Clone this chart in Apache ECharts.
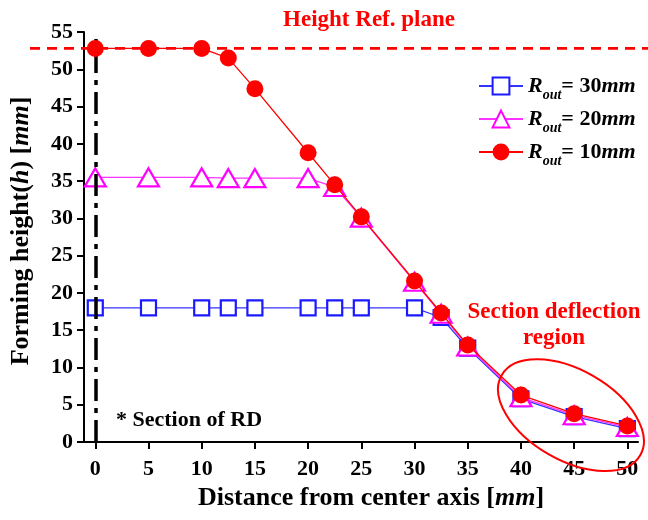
<!DOCTYPE html>
<html>
<head>
<meta charset="utf-8">
<script src="https://cdn.jsdelivr.net/npm/echarts@6/dist/echarts.min.js"></script>
<style>
  html, body { margin: 0; padding: 0; background: #fff; }
  #chart { width: 648px; height: 520px; }
</style>
</head>
<body>
<div id="chart"></div>
<script>
// Radial distance from the centre axis [mm]
const distance = [0, 5, 10, 12.5, 15, 20, 22.5, 25, 30, 32.5, 35, 40, 45, 50];

// Forming height h [mm] for each outer radius
const heightR30 = [18.0, 18.0, 18.0, 18.0, 18.0, 18.0, 18.0, 18.0, 18.0, 16.7, 12.6, 5.8, 3.4, 1.8];
const heightR20 = [35.5, 35.5, 35.5, 35.4, 35.4, 35.4, 34.2, 30.1, 21.5, 17.2, 12.8, 6.0, 3.6, 2.0];
const heightR10 = [52.8, 52.8, 52.8, 51.5, 47.4, 38.8, 34.5, 30.2, 21.6, 17.3, 13.0, 6.3, 3.8, 2.15];

// Height of the reference plane [mm]
const refPlaneHeight = 52.8;

const xTicks = [0, 5, 10, 15, 20, 25, 30, 35, 40, 45, 50];
const legendNames = ['R30', 'R20', 'R10'];
const legendRadius = { R30: '30', R20: '20', R10: '10' };

const FONT = '"Liberation Serif", "Times New Roman", serif';

const pair = (ys) => distance.map((x, i) => [x, ys[i]]);

const chart = echarts.init(document.getElementById('chart'), null, { renderer: 'canvas' });

const titleRich = {
  b: { fontFamily: FONT, fontWeight: 'bold', fontSize: 26, color: '#000' },
  i: { fontFamily: FONT, fontWeight: 'bold', fontStyle: 'italic', fontSize: 26, color: '#000' }
};

const option = {
  animation: false,
  backgroundColor: '#ffffff',
  textStyle: { fontFamily: FONT },
  grid: [
    { left: 83, right: 10, top: 32, bottom: 78 },
    // full-width band that carries the reference-plane line
    { left: 30, right: 0, top: 32, bottom: 78 }
  ],
  xAxis: [
    {
      type: 'value', gridIndex: 0, min: -1.06, max: 51,
      axisLine: { show: true, onZero: false, lineStyle: { color: '#000', width: 2 } },
      axisTick: { show: true, customValues: xTicks, length: 7, lineStyle: { color: '#000', width: 2 } },
      axisLabel: {
        customValues: xTicks, margin: 16,
        color: '#000', fontFamily: FONT, fontWeight: 'bold', fontSize: 22
      },
      splitLine: { show: false },
      name: '{b|Distance from center axis [}{i|mm}{b|]}',
      nameLocation: 'middle', nameGap: 42,
      nameTextStyle: { rich: titleRich, padding: [0, 0, 0, 20] }
    },
    { type: 'value', gridIndex: 1, min: 0, max: 1, show: false }
  ],
  yAxis: [
    {
      type: 'value', gridIndex: 0, min: 0, max: 55, interval: 5,
      axisLine: { show: true, onZero: false, lineStyle: { color: '#000', width: 2 } },
      axisTick: { show: true, length: 7, lineStyle: { color: '#000', width: 2 } },
      axisLabel: { margin: 11, color: '#000', fontFamily: FONT, fontWeight: 'bold', fontSize: 22 },
      splitLine: { show: false },
      name: '{b|Forming height(}{i|h}{b|) [}{i|mm}{b|]}',
      nameLocation: 'middle', nameGap: 50, nameRotate: 90,
      nameTextStyle: { rich: titleRich, padding: [0, 0, 0, 12] }
    },
    { type: 'value', gridIndex: 1, min: 0, max: 55, show: false }
  ],
  legend: {
    data: legendNames,
    orient: 'vertical',
    left: 473, top: 70,
    itemWidth: 44, itemHeight: 21, itemGap: 6,
    formatter: (name) => '{r|R}{s|out}{t|= ' + legendRadius[name] + '}{m|mm}',
    textStyle: {
      rich: {
        r: { fontFamily: FONT, fontWeight: 'bold', fontStyle: 'italic', fontSize: 22, color: '#000', verticalAlign: 'top', lineHeight: 22 },
        s: { fontFamily: FONT, fontWeight: 'bold', fontStyle: 'italic', fontSize: 14, color: '#000', verticalAlign: 'top', lineHeight: 14, padding: [13, 0, 0, 0] },
        t: { fontFamily: FONT, fontWeight: 'bold', fontSize: 22, color: '#000', verticalAlign: 'top', lineHeight: 22 },
        m: { fontFamily: FONT, fontWeight: 'bold', fontStyle: 'italic', fontSize: 22, color: '#000', verticalAlign: 'top', lineHeight: 22 }
      }
    }
  },
  series: [
    {
      name: 'ref-plane', type: 'line', xAxisIndex: 1, yAxisIndex: 1,
      data: [[0, refPlaneHeight], [1, refPlaneHeight]],
      symbol: 'none', silent: true, z: 1,
      lineStyle: { color: '#ff0000', width: 2.6, type: [10, 7] }
    },
    {
      name: 'R30', type: 'line', data: pair(heightR30), z: 3,
      symbol: 'rect', symbolSize: 15,
      itemStyle: { color: '#ffffff', borderColor: '#1a1aff', borderWidth: 2.2 },
      lineStyle: { color: '#3333ff', width: 1.3 },
      markLine: {
        silent: true, symbol: 'none', animation: false,
        label: { show: false },
        lineStyle: { color: '#000', width: 3.5, type: [22, 7, 5, 7] },
        data: [{ xAxis: 0 }]
      }
    },
    {
      name: 'R20', type: 'line', data: pair(heightR20), z: 4,
      symbol: 'triangle', symbolSize: [21, 18],
      itemStyle: { color: '#ffffff', borderColor: '#ff00ff', borderWidth: 2.2 },
      lineStyle: { color: '#ff33ff', width: 1.3 }
    },
    {
      name: 'R10', type: 'line', data: pair(heightR10), z: 5,
      symbol: 'circle', symbolSize: 17,
      itemStyle: { color: '#ff0000', borderColor: '#ff0000', borderWidth: 0 },
      lineStyle: { color: '#ff0000', width: 1.3 }
    }
  ]
};

chart.setOption(option);

// Text annotations and the ellipse marking the deflection region
const ellipseCentre = chart.convertToPixel({ gridIndex: 0 }, [44.7, 3.6]);
chart.setOption({
  graphic: [
    {
      type: 'text', x: 369, y: 20,
      style: { text: 'Height Ref. plane', fill: '#ff0000', font: 'bold 23px ' + FONT, align: 'center', verticalAlign: 'middle' },
      z: 10
    },
    {
      type: 'text', x: 554, y: 325,
      style: {
        text: 'Section deflection\nregion', fill: '#ff0000', font: 'bold 23px ' + FONT,
        align: 'center', verticalAlign: 'middle', lineHeight: 26
      },
      z: 10
    },
    {
      type: 'text', x: 116, y: 420,
      style: { text: '* Section of RD', fill: '#000', font: 'bold 22px ' + FONT, align: 'left', verticalAlign: 'middle' },
      z: 10
    },
    {
      type: 'ellipse',
      x: ellipseCentre[0], y: ellipseCentre[1],
      rotation: -Math.PI / 6,
      shape: { cx: 0, cy: 0, rx: 80, ry: 45 },
      style: { fill: 'none', stroke: '#ff0000', lineWidth: 2 },
      silent: true, z: 10
    }
  ]
});
</script>
</body>
</html>
